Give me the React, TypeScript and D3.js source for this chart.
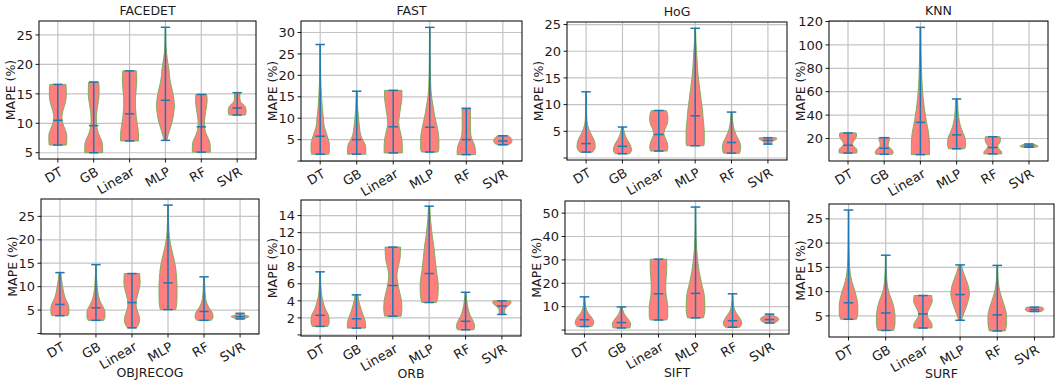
import React from "react";
import * as d3 from "d3";

const MODELS = ["DT", "GB", "Linear", "MLP", "RF", "SVR"];
const DATASETS = ["FACEDET", "FAST", "HoG", "KNN", "OBJRECOG", "ORB", "SIFT", "SURF"];

// y tick values per panel (0 is drawn without a label)
const TICKS_FACEDET = [5, 10, 15, 20, 25];
const TICKS_FAST = [0, 5, 10, 15, 20, 25, 30];
const TICKS_HOG = [0, 5, 10, 15, 20, 25];
const TICKS_KNN = [20, 40, 60, 80, 100, 120];
const TICKS_OBJRECOG = [0, 5, 10, 15, 20, 25];
const TICKS_ORB = [0, 2, 4, 6, 8, 10, 12, 14];
const TICKS_SIFT = [0, 10, 20, 30, 40, 50];
const TICKS_SURF = [5, 10, 15, 20, 25];

// min / median / max per model
const FACEDET_MIN = [6.3, 5.0, 7.0, 7.1, 5.1, 11.4];
const FACEDET_MED = [10.5, 9.6, 11.6, 13.9, 9.4, 12.6];
const FACEDET_MAX = [16.6, 17.0, 18.9, 26.3, 14.9, 15.2];
const FAST_MIN = [1.6, 1.6, 1.9, 2.1, 1.5, 3.8];
const FAST_MED = [5.8, 5.0, 8.0, 7.9, 5.0, 4.7];
const FAST_MAX = [27.2, 16.3, 16.5, 31.2, 12.3, 5.9];
const HOG_MIN = [1.1, 0.8, 1.3, 2.3, 0.9, 2.6];
const HOG_MED = [2.7, 2.2, 4.4, 7.9, 2.9, 3.3];
const HOG_MAX = [12.4, 5.8, 8.9, 24.3, 8.6, 3.8];
const KNN_MIN = [7.5, 6.5, 6.2, 11.2, 6.8, 12.5];
const KNN_MED = [14.2, 11.7, 33.8, 23.1, 12.3, 13.5];
const KNN_MAX = [24.8, 20.7, 115.0, 53.8, 21.5, 15.3];
const OBJRECOG_MIN = [3.8, 2.8, 1.2, 5.1, 2.8, 3.1];
const OBJRECOG_MED = [6.2, 5.5, 6.6, 10.8, 4.7, 3.6];
const OBJRECOG_MAX = [13.0, 14.7, 12.8, 27.4, 12.1, 4.3];
const ORB_MIN = [1.0, 0.8, 2.2, 3.8, 0.6, 2.4];
const ORB_MED = [2.3, 1.9, 5.8, 7.2, 1.6, 3.4];
const ORB_MAX = [7.4, 4.7, 10.3, 15.1, 5.0, 4.0];
const SIFT_MIN = [1.5, 0.9, 4.3, 5.2, 1.2, 3.0];
const SIFT_MED = [4.4, 3.2, 15.5, 15.7, 4.0, 4.5];
const SIFT_MAX = [14.2, 9.9, 30.3, 52.6, 15.5, 6.8];
const SURF_MIN = [4.3, 2.0, 2.5, 4.1, 1.9, 5.9];
const SURF_MED = [7.7, 5.6, 5.4, 9.4, 5.2, 6.3];
const SURF_MAX = [26.8, 17.5, 9.2, 15.5, 15.4, 6.8];

// violin outlines: [value, relative half-width]
const FACEDET_SHAPE = [
  [[6.3, 0.95], [7, 1], [8, 1], [9, 0.8], [10, 0.55], [11, 0.45], [12, 0.55], [13, 0.75], [14, 0.9], [15, 0.95], [16.6, 0.9]],
  [[5, 1], [6, 1], [7, 0.9], [8, 0.6], [9, 0.4], [10, 0.3], [11, 0.3], [12, 0.35], [13, 0.45], [14, 0.55], [15, 0.6], [16, 0.6], [17, 0.55]],
  [[7, 1], [8, 1], [9, 0.95], [10, 0.85], [11, 0.75], [12, 0.7], [13, 0.65], [14, 0.65], [15, 0.7], [16, 0.75], [17, 0.8], [18, 0.8], [18.9, 0.75]],
  [[7.1, 0.15], [8, 0.3], [9, 0.5], [10, 0.7], [11, 0.85], [12, 0.95], [13, 1], [14, 0.95], [15, 0.85], [16, 0.7], [17, 0.55], [18, 0.45], [19, 0.4], [20, 0.3], [21, 0.2], [22, 0.12], [24, 0.05], [26.3, 0.02]],
  [[5.1, 1], [6, 1], [7, 0.9], [8, 0.6], [9, 0.4], [10, 0.35], [11, 0.4], [12, 0.5], [13, 0.6], [14, 0.65], [14.9, 0.6]],
  [[11.4, 0.9], [12, 1], [12.8, 0.9], [13.3, 0.6], [13.8, 0.35], [14.5, 0.3], [15.2, 0.3]],
];
const FAST_SHAPE = [
  [[1.6, 0.95], [2.5, 1], [4, 1], [5, 0.9], [6, 0.75], [7, 0.6], [8, 0.45], [10, 0.35], [12, 0.25], [15, 0.15], [18, 0.08], [22, 0.04], [27.2, 0.02]],
  [[1.6, 1], [3, 1], [4, 0.9], [5, 0.65], [6, 0.45], [8, 0.3], [10, 0.2], [12, 0.12], [14, 0.08], [16.3, 0.05]],
  [[1.9, 1], [3, 1], [5, 0.95], [7, 0.75], [9, 0.6], [11, 0.7], [13, 0.85], [15, 0.95], [16.5, 0.95]],
  [[2.1, 0.9], [3, 1], [5, 1], [7, 0.9], [9, 0.7], [11, 0.5], [13, 0.35], [15, 0.2], [18, 0.1], [22, 0.06], [26, 0.04], [31.2, 0.03]],
  [[1.5, 1], [2.5, 1], [4, 0.85], [5, 0.65], [6, 0.5], [8, 0.45], [10, 0.45], [12.3, 0.45]],
  [[3.8, 0.6], [4.3, 0.95], [4.8, 1], [5.3, 0.9], [5.9, 0.6]],
];
const HOG_SHAPE = [
  [[1.1, 0.7], [2, 1], [3, 0.95], [4, 0.7], [5, 0.4], [6, 0.2], [7, 0.1], [9, 0.05], [12.4, 0.02]],
  [[0.8, 0.8], [1.5, 1], [2.5, 0.85], [3.5, 0.5], [4.5, 0.25], [5.8, 0.1]],
  [[1.3, 0.9], [2, 1], [3, 0.9], [4, 0.65], [4.6, 0.55], [5.5, 0.7], [6.5, 0.95], [7.5, 1], [8.3, 0.95], [8.9, 0.8]],
  [[2.3, 0.95], [3, 1], [5, 1], [7, 0.9], [9, 0.8], [11, 0.65], [13, 0.5], [15, 0.35], [17, 0.25], [20, 0.15], [22, 0.08], [24.3, 0.04]],
  [[0.9, 0.9], [2, 1], [3, 0.9], [4, 0.6], [5, 0.35], [6, 0.2], [7, 0.12], [8.6, 0.05]],
  [[2.6, 0.35], [3.0, 0.45], [3.3, 0.7], [3.6, 1], [3.8, 0.9]],
];
const KNN_SHAPE = [
  [[7.5, 0.95], [9, 1], [11, 0.95], [13, 0.7], [15, 0.5], [17, 0.55], [19, 0.75], [21, 0.9], [23, 0.95], [24.8, 0.9]],
  [[6.5, 0.9], [8, 1], [10, 0.9], [12, 0.65], [14, 0.45], [16, 0.45], [18, 0.55], [20, 0.6], [20.7, 0.6]],
  [[6.2, 1], [15, 1], [25, 0.9], [35, 0.65], [45, 0.45], [55, 0.3], [65, 0.2], [80, 0.12], [95, 0.07], [115, 0.04]],
  [[11.2, 0.9], [15, 1], [20, 0.95], [25, 0.7], [30, 0.45], [35, 0.3], [40, 0.2], [45, 0.15], [53.8, 0.1]],
  [[6.8, 1], [9, 0.95], [11, 0.7], [13, 0.55], [15, 0.65], [17, 0.8], [19, 0.85], [21.5, 0.8]],
  [[12.5, 0.7], [13.3, 1], [14, 0.9], [15.3, 0.4]],
];
const OBJRECOG_SHAPE = [
  [[3.8, 0.9], [4.5, 1], [5.5, 1], [6.5, 0.85], [7.5, 0.6], [8.5, 0.45], [10, 0.3], [11.5, 0.18], [13, 0.1]],
  [[2.8, 0.85], [3.5, 1], [4.5, 1], [5.5, 0.85], [6.5, 0.55], [7.5, 0.35], [9, 0.2], [11, 0.1], [13, 0.05], [14.7, 0.03]],
  [[1.2, 0.5], [2, 0.75], [3, 0.85], [4, 0.75], [5, 0.55], [6.5, 0.45], [8, 0.6], [9.5, 0.8], [11, 0.9], [12.8, 0.85]],
  [[5.1, 0.85], [6, 0.95], [8, 1], [10, 1], [12, 0.95], [14, 0.85], [16, 0.65], [18, 0.4], [20, 0.2], [22, 0.1], [24, 0.06], [27.4, 0.03]],
  [[2.8, 0.8], [3.5, 1], [4.5, 0.9], [5.5, 0.55], [6.5, 0.3], [8, 0.15], [10, 0.08], [12.1, 0.04]],
  [[3.1, 0.3], [3.4, 0.8], [3.6, 1], [3.9, 0.6], [4.3, 0.2]],
];
const ORB_SHAPE = [
  [[1.0, 0.85], [1.5, 1], [2.2, 0.95], [3, 0.6], [3.8, 0.35], [4.5, 0.2], [5.5, 0.1], [7.4, 0.04]],
  [[0.8, 1], [1.3, 1], [2, 0.85], [2.7, 0.6], [3.4, 0.4], [4, 0.25], [4.7, 0.15]],
  [[2.2, 0.9], [3, 1], [4, 0.95], [5, 0.75], [6, 0.55], [7, 0.45], [8, 0.6], [9, 0.8], [10.3, 0.85]],
  [[3.8, 0.8], [4.5, 0.95], [5.5, 1], [6.5, 0.95], [7.5, 0.8], [8.5, 0.7], [9.5, 0.6], [10.5, 0.5], [11.5, 0.35], [12.5, 0.25], [13.5, 0.15], [15.1, 0.08]],
  [[0.6, 0.9], [1, 1], [1.6, 0.85], [2.2, 0.55], [2.8, 0.35], [3.5, 0.2], [4.2, 0.1], [5, 0.05]],
  [[2.4, 0.3], [2.8, 0.3], [3.2, 0.45], [3.5, 0.8], [3.8, 1], [4.0, 0.95]],
];
const SIFT_SHAPE = [
  [[1.5, 0.8], [3, 1], [5, 0.85], [7, 0.45], [9, 0.2], [11, 0.1], [14.2, 0.04]],
  [[0.9, 0.9], [2.5, 1], [4, 0.85], [5.5, 0.55], [7, 0.3], [8.5, 0.15], [9.9, 0.08]],
  [[4.3, 0.9], [6, 1], [10, 1], [13, 0.9], [16, 0.8], [19, 0.78], [22, 0.82], [25, 0.88], [28, 0.9], [30.3, 0.88]],
  [[5.2, 0.85], [8, 1], [12, 1], [16, 0.9], [20, 0.65], [25, 0.4], [30, 0.22], [35, 0.12], [40, 0.07], [46, 0.04], [52.6, 0.02]],
  [[1.2, 0.8], [3, 1], [5, 0.8], [7, 0.45], [9, 0.2], [11, 0.1], [13, 0.05], [15.5, 0.03]],
  [[3.0, 0.5], [3.8, 0.85], [4.5, 1], [5.3, 0.9], [6, 0.55], [6.8, 0.25]],
];
const SURF_SHAPE = [
  [[4.3, 0.85], [5.5, 1], [7, 1], [8.5, 0.9], [10, 0.7], [11.5, 0.45], [13, 0.25], [15, 0.12], [18, 0.06], [22, 0.03], [26.8, 0.02]],
  [[2.0, 0.85], [3.5, 1], [5, 1], [6.5, 0.9], [8, 0.7], [9.5, 0.4], [11, 0.2], [13, 0.1], [15, 0.05], [17.5, 0.03]],
  [[2.5, 0.95], [3, 1], [3.8, 0.85], [4.5, 0.6], [5.2, 0.45], [6, 0.55], [7, 0.8], [8, 1], [9.2, 0.95]],
  [[4.1, 0.15], [5, 0.3], [6.5, 0.6], [8, 0.85], [9.5, 1], [11, 0.9], [12.5, 0.65], [14, 0.35], [15.5, 0.15]],
  [[1.9, 0.85], [3.5, 1], [5, 1], [6.5, 0.85], [8, 0.6], [9.5, 0.35], [11, 0.18], [13, 0.08], [15.4, 0.04]],
  [[5.9, 0.7], [6.3, 1], [6.8, 0.85]],
];

const PANEL_DATA = [
  { ticks: TICKS_FACEDET, min: FACEDET_MIN, med: FACEDET_MED, max: FACEDET_MAX, shape: FACEDET_SHAPE },
  { ticks: TICKS_FAST, min: FAST_MIN, med: FAST_MED, max: FAST_MAX, shape: FAST_SHAPE },
  { ticks: TICKS_HOG, min: HOG_MIN, med: HOG_MED, max: HOG_MAX, shape: HOG_SHAPE },
  { ticks: TICKS_KNN, min: KNN_MIN, med: KNN_MED, max: KNN_MAX, shape: KNN_SHAPE },
  { ticks: TICKS_OBJRECOG, min: OBJRECOG_MIN, med: OBJRECOG_MED, max: OBJRECOG_MAX, shape: OBJRECOG_SHAPE },
  { ticks: TICKS_ORB, min: ORB_MIN, med: ORB_MED, max: ORB_MAX, shape: ORB_SHAPE },
  { ticks: TICKS_SIFT, min: SIFT_MIN, med: SIFT_MED, max: SIFT_MAX, shape: SIFT_SHAPE },
  { ticks: TICKS_SURF, min: SURF_MIN, med: SURF_MED, max: SURF_MAX, shape: SURF_SHAPE },
];

// layout (plot-area boxes in pixels)
const BOXES = [
  { x0: 39, x1: 256, y0: 21, y1: 159 },
  { x0: 301, x1: 522, y0: 21, y1: 161 },
  { x0: 567, x1: 787, y0: 22, y1: 160 },
  { x0: 829, x1: 1048, y0: 21, y1: 161 },
  { x0: 41, x1: 259, y0: 199, y1: 334 },
  { x0: 301, x1: 521, y0: 200, y1: 336 },
  { x0: 565, x1: 789, y0: 201, y1: 334 },
  { x0: 829, x1: 1054, y0: 204, y1: 337 },
];

const FONT = "'DejaVu Sans', sans-serif";
const FILL = "#ff7f7f";
const EDGE = "#6fae55";
const BLUE = "#1f77b4";
const GRID = "#c4c4c4";
const TXT = "#1a1a1a";

function Panel({ idx }: { idx: number }) {
  const d = PANEL_DATA[idx];
  const b = BOXES[idx];
  const lo = d3.min(d.min) as number;
  const hi = d3.max(d.max) as number;
  const pad = (hi - lo) * 0.05;
  const y = d3.scaleLinear().domain([lo - pad, hi + pad]).range([b.y1, b.y0]);
  const x = d3.scaleLinear().domain([0.475, 6.525]).range([b.x0, b.x1]);
  const unit = x(1) - x(0);
  const positions = MODELS.map((_, i) => i + 1);
  const top = idx < 4;
  const visTicks = d.ticks.filter((t) => y(t) >= b.y0 - 0.5 && y(t) <= b.y1 + 0.5);

  return (
    <g>
      {visTicks.map((t) => (
        <line key={"gy" + t} x1={b.x0} x2={b.x1} y1={y(t)} y2={y(t)} stroke={GRID} strokeWidth={1.2} />
      ))}
      {positions.map((p) => (
        <line key={"gx" + p} x1={x(p)} x2={x(p)} y1={b.y0} y2={b.y1} stroke={GRID} strokeWidth={1.2} />
      ))}
      {positions.map((p, i) => {
        const pts = d.shape[i] as number[][];
        const area = d3
          .area<number[]>()
          .y((q) => y(q[0]))
          .x0((q) => x(p) - q[1] * 0.25 * unit)
          .x1((q) => x(p) + q[1] * 0.25 * unit)
          .curve(d3.curveMonotoneY);
        const cap = 0.13 * unit;
        return (
          <g key={"v" + p}>
            <path d={area(pts) || ""} fill={FILL} stroke={EDGE} strokeWidth={0.9} />
            <line x1={x(p)} x2={x(p)} y1={y(d.min[i])} y2={y(d.max[i])} stroke={BLUE} strokeWidth={1.5} />
            <line x1={x(p) - cap} x2={x(p) + cap} y1={y(d.min[i])} y2={y(d.min[i])} stroke={BLUE} strokeWidth={1.5} />
            <line x1={x(p) - cap} x2={x(p) + cap} y1={y(d.max[i])} y2={y(d.max[i])} stroke={BLUE} strokeWidth={1.5} />
            <line x1={x(p) - cap} x2={x(p) + cap} y1={y(d.med[i])} y2={y(d.med[i])} stroke={BLUE} strokeWidth={1.5} />
          </g>
        );
      })}
      <rect x={b.x0} y={b.y0} width={b.x1 - b.x0} height={b.y1 - b.y0} fill="none" stroke="#000" strokeWidth={1} />
      {visTicks.map((t) => (
        <g key={"yt" + t}>
          <line x1={b.x0 - 3.5} x2={b.x0} y1={y(t)} y2={y(t)} stroke="#000" strokeWidth={0.9} />
          {t !== 0 && (
            <text x={b.x0 - 6} y={y(t)} dy="0.36em" textAnchor="end" fontFamily={FONT} fontSize={13} fill={TXT}>
              {t}
            </text>
          )}
        </g>
      ))}
      {positions.map((p, i) => (
        <g key={"xt" + p}>
          <line x1={x(p)} x2={x(p)} y1={b.y1} y2={b.y1 + 3.5} stroke="#000" strokeWidth={0.9} />
          <text
            transform={`translate(${x(p) + 1},${b.y1 + 7}) rotate(-30)`}
            dy="0.75em"
            textAnchor="end"
            fontFamily={FONT}
            fontSize={13}
            fill={TXT}
          >
            {MODELS[i]}
          </text>
        </g>
      ))}
      <text
        transform={`translate(${b.x0 - 29},${(b.y0 + b.y1) / 2}) rotate(-90)`}
        dy="0.36em"
        textAnchor="middle"
        fontFamily={FONT}
        fontSize={12.5}
        fill={TXT}
      >
        MAPE (%)
      </text>
      <text
        x={(b.x0 + b.x1) / 2}
        y={top ? b.y0 - 6 : Math.min(b.y1 + 43, 378)}
        textAnchor="middle"
        fontFamily={FONT}
        fontSize={12.5}
        fill={TXT}
      >
        {DATASETS[idx]}
      </text>
    </g>
  );
}

export default function App() {
  return (
    <svg width={1058} height={383} style={{ position: "absolute", left: 0, top: 0, background: "#fff" }}>
      <rect width={1058} height={383} fill="#fff" />
      {DATASETS.map((_, i) => (
        <Panel key={i} idx={i} />
      ))}
    </svg>
  );
}
